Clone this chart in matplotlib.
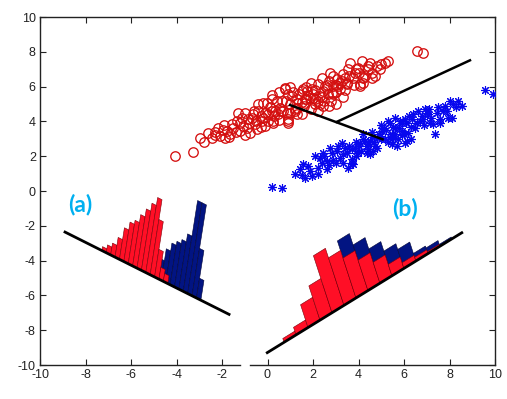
import numpy as np
import matplotlib
matplotlib.use('Agg')
import matplotlib.pyplot as plt
from matplotlib.transforms import Affine2D

plt.rcParams['axes.unicode_minus'] = False

# ---- scatter data (class 1: red circles, class 2: blue asterisks) ----
red_x = [-4.07, -3.26, -2.97, -2.45, -1.87, -2.31, -2.16, -1.94, -1.65, -1.50, -1.35, -1.28,
         -0.99, -1.21, -0.77, -1.06, -0.84, -0.62, -0.40, -0.18, -0.47, -0.11, 0.04, 0.18,
         0.33, 0.25, 0.55, 0.62, 0.77, 0.91, 0.84, 1.06, 1.28, 1.50, 1.65, 1.94, 2.09, 2.23,
         2.38, 2.45, 1.21, 0.47, -0.25, -0.55, -1.57, -1.79, -2.60, -2.09,
         6.56, 6.82, 5.31, 5.16, 4.14, 3.63, 4.95, 4.73, 4.43, 4.29, 4.07, 3.85, 3.33, 3.48,
         3.04, 3.19, 2.89, 2.53, 2.67, 2.31, 1.87, 1.57, 1.65, 2.09, 2.45, 2.23, 2.89, 4.58,
         4.80, 4.51, 3.99, 3.77, 4.21, 3.55, 2.75, 3.26,
         0.77, 0.25, 0.91, -0.04, -0.18, 0.40, 1.28, 1.72, 2.31, 2.82, 3.11, 3.48, 4.07, 2.01,
         1.0, 1.3, 0.7, 1.8, 2.1, 2.6, 0.2, -0.3, -0.8, -1.1, 1.5, 2.4, 3.0, 0.9, 0.0, -0.6,
         1.9, 2.7, 3.4, 1.2,
         -2.8, -2.3, -1.9, -1.7, -1.4, -1.2, -0.9, -0.7, -0.5, -0.3, -0.1, 0.1, 0.3, 0.5,
         0.6, 0.8, 1.0, 1.1, 1.3, 1.4, 1.6, 1.7, 1.9, 2.0, 2.5, 2.6, 2.8, 3.0, 3.2, 3.4,
         3.6, 3.8, 4.0, 4.2, 4.4, 4.6, 5.0, -1.0, -0.4, 0.2, 0.9, 1.5, 2.2, 2.7, 3.3, 1.0,
         1.7, 0.5, 2.9, 3.9, 3.0]
red_y = [2.01, 2.24, 3.03, 3.03, 3.03, 3.41, 3.60, 3.49, 3.26, 3.64, 4.02, 4.50,
         4.50, 3.45, 3.35, 3.74, 4.12, 4.41, 4.60, 5.07, 3.55, 3.74, 4.02, 5.27,
         4.60, 4.02, 4.79, 5.17, 5.84, 4.02, 4.50, 5.46, 5.07, 5.75, 5.27, 5.84, 5.27, 6.13,
         6.51, 5.75, 4.60, 4.41, 4.02, 3.83, 3.83, 3.45, 3.35, 3.16,
         8.05, 7.95, 7.47, 7.37, 7.47, 7.37, 6.99, 6.61, 6.99, 6.61, 6.03, 6.80, 6.71, 6.22,
         6.42, 5.84, 6.03, 6.03, 5.56, 5.46, 5.36, 5.84, 5.07, 4.98, 4.89, 5.17, 5.56, 6.51,
         7.18, 7.37, 7.09, 6.51, 6.22, 6.99, 6.80, 6.32,
         5.94, 3.93, 4.12, 5.07, 4.21, 5.17, 4.79, 5.75, 4.98, 5.65, 6.03, 6.13, 6.13, 5.36,
         5.0, 5.3, 4.6, 5.5, 5.8, 5.9, 4.6, 4.3, 3.9, 4.2, 5.1, 5.4, 6.1, 5.6, 4.4, 4.6,
         6.2, 6.3, 6.5, 4.7,
         2.8, 3.2, 3.8, 3.1, 3.4, 3.9, 3.6, 4.2, 4.0, 3.7, 4.5, 4.8, 4.3, 4.1,
         4.6, 5.2, 4.5, 5.7, 4.4, 5.6, 4.9, 5.3, 4.7, 5.6, 5.2, 6.1, 5.2, 5.7, 6.2, 5.8,
         6.6, 6.1, 6.8, 6.5, 7.2, 6.8, 7.3, 3.2, 5.0, 5.5, 3.9, 4.4, 4.6, 4.9, 5.4, 6.0,
         6.0, 5.7, 6.6, 7.0, 5.0]

blue_x = [0.18, 0.62, 1.43, 1.65, 1.87, 1.79, 2.23, 2.31, 2.09, 2.60, 2.75, 2.82, 3.19,
          3.26, 3.48, 3.55, 3.70, 3.85, 4.07, 3.99, 4.36, 4.51, 4.65, 4.80, 4.73, 5.02,
          5.16, 5.31, 5.46, 5.60, 5.75, 5.90, 6.04, 6.12, 6.19, 6.41, 6.56, 6.63, 6.85,
          6.92, 7.07, 7.29, 7.36, 7.44, 7.73, 7.80, 8.02, 7.95, 8.10, 8.17, 8.39, 8.54,
          7.58, 7.14, 3.04, 3.33, 2.45, 2.60, 1.94, 1.57, 4.21, 4.36, 3.77, 5.46, 6.04,
          9.56, 9.93, 6.34, 5.53, 4.95, 5.82,
          4.3, 4.6, 4.9, 5.2, 5.5, 5.8, 6.1, 4.0, 3.7, 5.0, 5.4, 6.3, 4.4, 3.4, 2.9, 2.4,
          6.8, 7.1, 5.9, 4.7, 3.9, 5.6,
          2.2, 2.5, 2.7, 3.0, 3.1, 3.3, 3.6, 3.7, 3.9, 4.1, 4.2, 4.4, 4.5, 4.6, 4.8, 5.0,
          5.1, 5.3, 5.4, 5.6, 5.7, 5.9, 6.0, 6.2, 6.3, 6.5, 6.7, 6.9, 7.0, 7.2, 7.5, 7.6,
          7.9, 8.3, 1.2, 1.5]
blue_y = [0.23, 0.19, 1.25, 0.76, 1.15, 1.44, 1.34, 1.91, 2.01, 1.72, 2.49, 2.20, 1.91,
          2.78, 2.20, 1.34, 1.82, 2.49, 2.78, 2.20, 2.59, 2.87, 2.30, 3.06, 2.59, 3.45,
          2.97, 4.02, 3.26, 3.64, 2.97, 3.45, 4.12, 2.87, 3.35, 4.41, 3.93, 4.60, 4.12,
          4.70, 4.41, 3.83, 3.26, 4.50, 4.60, 4.89, 5.17, 4.21, 4.21, 4.98, 5.17, 4.89,
          4.12, 3.93, 2.30, 1.63, 2.20, 1.25, 0.86, 1.53, 3.26, 2.20, 1.53, 2.68, 2.78,
          5.79, 5.59, 4.12, 3.06, 3.16, 4.02,
          2.9, 3.1, 3.3, 3.5, 3.7, 3.6, 3.9, 2.6, 2.4, 3.8, 3.1, 3.7, 2.4, 2.5, 1.8, 1.6,
          4.3, 4.7, 3.2, 2.8, 2.0, 4.2,
          1.0, 2.0, 1.5, 1.6, 2.6, 2.1, 2.6, 1.6, 2.8, 2.3, 3.0, 2.7, 2.1, 3.4, 2.5, 3.0,
          3.6, 2.8, 3.9, 3.3, 2.6, 3.9, 3.3, 4.3, 3.0, 3.6, 4.0, 3.8, 4.5, 4.2, 4.8, 3.9,
          4.6, 4.8, 1.0, 0.9]

# ---- lines: segment joining class means, and projection direction ----
mean_line_x = [0.99, 5.06]
mean_line_y = [4.94, 2.97]
dir_line_x = [3.04, 8.90]
dir_line_y = [3.97, 7.51]

# ---- projection axes for the two histograms ----
base_a_x = [-8.90, -1.69]
base_a_y = [-2.36, -7.09]
base_b_x = [-0.01, 8.54]
base_b_y = [-9.29, -2.40]

# ---- histogram counts ----
hist_a_red = [1, 2, 3, 5, 8, 10, 11, 13, 15, 17, 19, 14, 7, 3, 2]
hist_a_blue = [5, 8, 10, 11, 12, 14, 23, 23, 12, 5]
hist_b_red = [2, 4, 12, 18, 30, 25, 21, 16, 11, 6, 3, 2, 1]
hist_b_blue = [5, 15, 22, 30, 24, 18, 13, 10, 4, 3, 1]

# bin layout along each projection axis (position = x of bar foot)
a_red_left, a_blue_left, a_width = -7.28, -4.86, 0.193
b_red_c0, b_blue_c0, b_width = 0.99, 2.57, 0.527
a_hvec = (0.0274, 0.2271)     # data offset per count (bar direction), panel a
b_hvec = (-0.0272, 0.1093)    # panel b

RED = '#ff0f26'
RED_EDGE = '#7a0008'
NAVY = '#021482'
NAVY_EDGE = '#000438'

fig = plt.figure(figsize=(5.07, 3.99), dpi=100)
ax = fig.add_axes([40/507, 34/399, 455/507, 348/399])


def panel_transform(bx, by, hvec):
    m = (by[1] - by[0]) / (bx[1] - bx[0])
    mat = np.array([[1.0, hvec[0], 0.0],
                    [m, hvec[1], by[0] - m * bx[0]],
                    [0.0, 0.0, 1.0]])
    return Affine2D(mat) + ax.transData


# scatter
ax.plot(red_x, red_y, 'o', ms=6.8, mfc='none', mec='#d40f0f', mew=0.95, zorder=3)
ax.plot(blue_x, blue_y, ls='none', marker=(8, 2, 0), ms=6.2, mec='#0808ee', mew=0.8, zorder=3)

ax.plot(mean_line_x, mean_line_y, color='black', lw=1.8, zorder=4)
ax.plot(dir_line_x, dir_line_y, color='black', lw=1.8, zorder=4)

# panel (a) histograms
Ta = panel_transform(base_a_x, base_a_y, a_hvec)
pos = a_blue_left + a_width * np.arange(len(hist_a_blue))
ax.bar(pos, hist_a_blue, width=a_width, align='edge', transform=Ta,
       color=NAVY, edgecolor=NAVY_EDGE, linewidth=0.4, zorder=2)
pos = a_red_left + a_width * np.arange(len(hist_a_red))
ax.bar(pos, hist_a_red, width=a_width, align='edge', transform=Ta,
       color=RED, edgecolor=RED_EDGE, linewidth=0.4, zorder=2.1)
ax.plot(base_a_x, base_a_y, color='black', lw=2.0, zorder=4)

# panel (b) histograms
Tb = panel_transform(base_b_x, base_b_y, b_hvec)
pos = b_blue_c0 + b_width * np.arange(len(hist_b_blue))
ax.bar(pos, hist_b_blue, width=b_width, align='center', transform=Tb,
       color=NAVY, edgecolor=NAVY_EDGE, linewidth=0.4, zorder=2)
pos = b_red_c0 + b_width * np.arange(len(hist_b_red))
ax.bar(pos, hist_b_red, width=b_width, align='center', transform=Tb,
       color=RED, edgecolor=RED_EDGE, linewidth=0.4, zorder=2.1)
ax.plot(base_b_x, base_b_y, color='black', lw=2.0, zorder=4)

ax.text(-8.24, -0.75, '(a)', color='#00b0f0', fontsize=16.5, fontweight='bold',
        family='Lato', ha='center', va='center')
ax.text(6.04, -1.03, '(b)', color='#00b0f0', fontsize=16.5, fontweight='bold',
        family='Lato', ha='center', va='center')

ax.set_xlim(-10, 10)
ax.set_ylim(-10, 10)
ticks = np.arange(-10, 11, 2)
ax.set_xticks(ticks)
ax.set_yticks(ticks)
ax.tick_params(direction='in', top=True, right=True, length=4, width=0.8,
               labelsize=9, labelcolor='#222222', colors='#222222', pad=3)
for lab in ax.get_xticklabels() + ax.get_yticklabels():
    lab.set_family('Liberation Sans')
for sp in ax.spines.values():
    sp.set_linewidth(1.0)
    sp.set_color('#222222')

# bottom frame is split between the two panels
ax.spines['bottom'].set_visible(False)
ax.plot([0, 0.44], [0, 0], transform=ax.transAxes, color='#222222', lw=1.0,
        clip_on=False, zorder=5)
ax.plot([0.462, 1], [0, 0], transform=ax.transAxes, color='#222222', lw=1.0,
        clip_on=False, zorder=5)

fig.savefig('out.png', dpi=100, facecolor='white')
